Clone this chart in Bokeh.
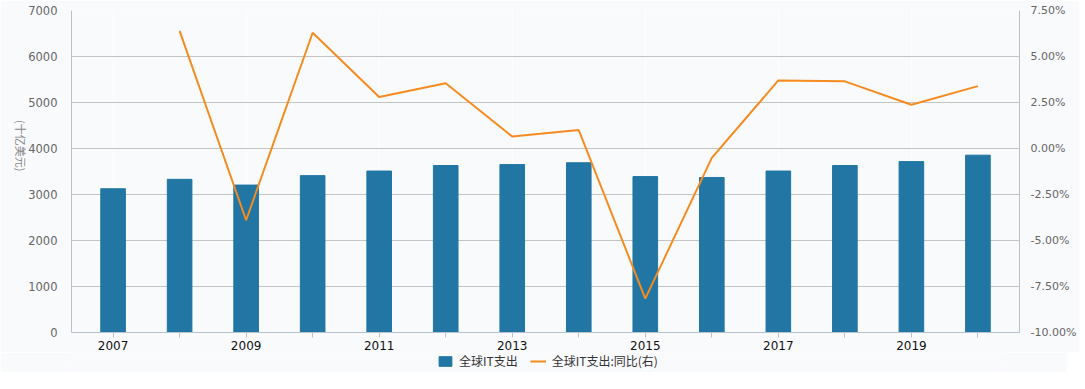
import math
from bokeh.plotting import figure
from bokeh.layouts import column
from bokeh.models import (Range1d, LinearAxis, FixedTicker, PrintfTickFormatter,
                          NumeralTickFormatter, Legend, LegendItem)
from bokeh.embed import file_html
from bokeh.resources import INLINE

years = [2007, 2008, 2009, 2010, 2011, 2012, 2013, 2014, 2015, 2016, 2017, 2018, 2019, 2020]
spending = [3125, 3330, 3205, 3410, 3510, 3630, 3650, 3690, 3390, 3370, 3510, 3630, 3715, 3855]
yoy_years = [2008, 2009, 2010, 2011, 2012, 2013, 2014, 2015, 2016, 2017, 2018, 2019, 2020]
yoy_pct = [6.39, -3.90, 6.29, 2.80, 3.55, 0.65, 1.00, -8.16, -0.51, 3.70, 3.65, 2.38, 3.39]
label_years = [2007, 2009, 2011, 2013, 2015, 2017, 2019]
left_ticks = [0, 1000, 2000, 3000, 4000, 5000, 6000, 7000]
right_ticks = [-10.0, -7.5, -5.0, -2.5, 0.0, 2.5, 5.0, 7.5]
series_names = ["全球IT支出", "全球IT支出:同比(右)"]

BAR = "#2176a4"
LINE = "#f68b1f"
BG = "#f9fafc"
FONT = "DejaVu Sans"

p = figure(frame_width=948, frame_height=322, output_backend="svg", toolbar_location=None,
           x_range=Range1d(2006.375, 2020.625), y_range=Range1d(0, 7000),
           min_border_left=71, min_border_right=0, min_border_top=10, min_border_bottom=0)
p.background_fill_color = BG
p.border_fill_color = BG
p.outline_line_color = None
p.extra_y_ranges = {"pct": Range1d(-10, 7.5)}

bars = p.vbar(x=years, top=spending, width=0.37, color=BAR)
line = p.line(x=yoy_years, y=yoy_pct, y_range_name="pct", color=LINE, line_width=2)

# x axis
xa = p.xaxis[0]
xa.ticker = FixedTicker(ticks=label_years, minor_ticks=years)
xa.major_tick_line_color = None
xa.minor_tick_in = 0
xa.minor_tick_out = 5
xa.minor_tick_line_color = "#b8c2cc"
xa.axis_line_color = "#b8c2cc"
xa.major_label_text_font = FONT
xa.major_label_text_font_size = "12px"
xa.major_label_text_color = "#111111"
xa.major_label_standoff = 2

# left axis
ya = p.yaxis[0]
ya.ticker = FixedTicker(ticks=left_ticks)
ya.formatter = NumeralTickFormatter(format="0")
ya.major_tick_line_color = None
ya.minor_tick_line_color = None
ya.axis_line_color = "#b8c2cc"
ya.major_label_text_font = FONT
ya.major_label_text_font_size = "11.5px"
ya.major_label_text_color = "#666666"
ya.major_label_standoff = 8
ya.axis_label = "(十亿美元)"
ya.axis_label_text_font = "Noto Sans CJK SC"
ya.axis_label_text_font_size = "11px"
ya.axis_label_text_font_style = "normal"
ya.axis_label_text_color = "#888888"
ya.axis_label_standoff = 4
if "axis_label_orientation" in ya.properties():
    ya.axis_label_orientation = -math.pi / 2

# right axis
ra = LinearAxis(y_range_name="pct", ticker=FixedTicker(ticks=right_ticks),
                formatter=PrintfTickFormatter(format="%.2f%%"))
ra.major_tick_line_color = None
ra.minor_tick_line_color = None
ra.axis_line_color = "#b8c2cc"
ra.major_label_text_font = FONT
ra.major_label_text_font_size = "11px"
ra.major_label_text_color = "#666666"
ra.major_label_standoff = 5
p.add_layout(ra, "right")

p.ygrid.ticker = FixedTicker(ticks=left_ticks)
p.ygrid.grid_line_color = "#c4c4c4"
p.xgrid.ticker = FixedTicker(ticks=label_years)
p.xgrid.grid_line_color = "#ffffff"

# legend strip below the chart (key glyphs lie outside the strip's visible range)
lg = figure(width=1067, height=20, output_backend="svg", toolbar_location=None,
            x_range=Range1d(0, 1), y_range=Range1d(0, 1),
            min_border=0, min_border_left=0, min_border_right=0,
            min_border_top=0, min_border_bottom=0)
lg.axis.visible = False
lg.grid.visible = False
lg.background_fill_color = BG
lg.border_fill_color = BG
lg.outline_line_color = None
key_bar = lg.vbar(x=[-10], top=[-10], bottom=[-11], width=0.37, color=BAR)
key_line = lg.line(x=[-10, -9], y=[-10, -10], color=LINE, line_width=2)

legend = Legend(items=[LegendItem(label=series_names[0], renderers=[key_bar], index=0),
                       LegendItem(label=series_names[1], renderers=[key_line], index=0)],
                orientation="horizontal", location=(366, 3),
                background_fill_alpha=0, border_line_color=None,
                label_text_font="Noto Sans CJK SC", label_text_font_size="12px",
                label_text_color="#333333", glyph_width=16, glyph_height=12,
                spacing=12, padding=0, margin=0, label_standoff=6, label_height=12)
lg.add_layout(legend, "center")

layout = column(p, lg, spacing=0)
open("out.html", "w").write(file_html(layout, INLINE))
